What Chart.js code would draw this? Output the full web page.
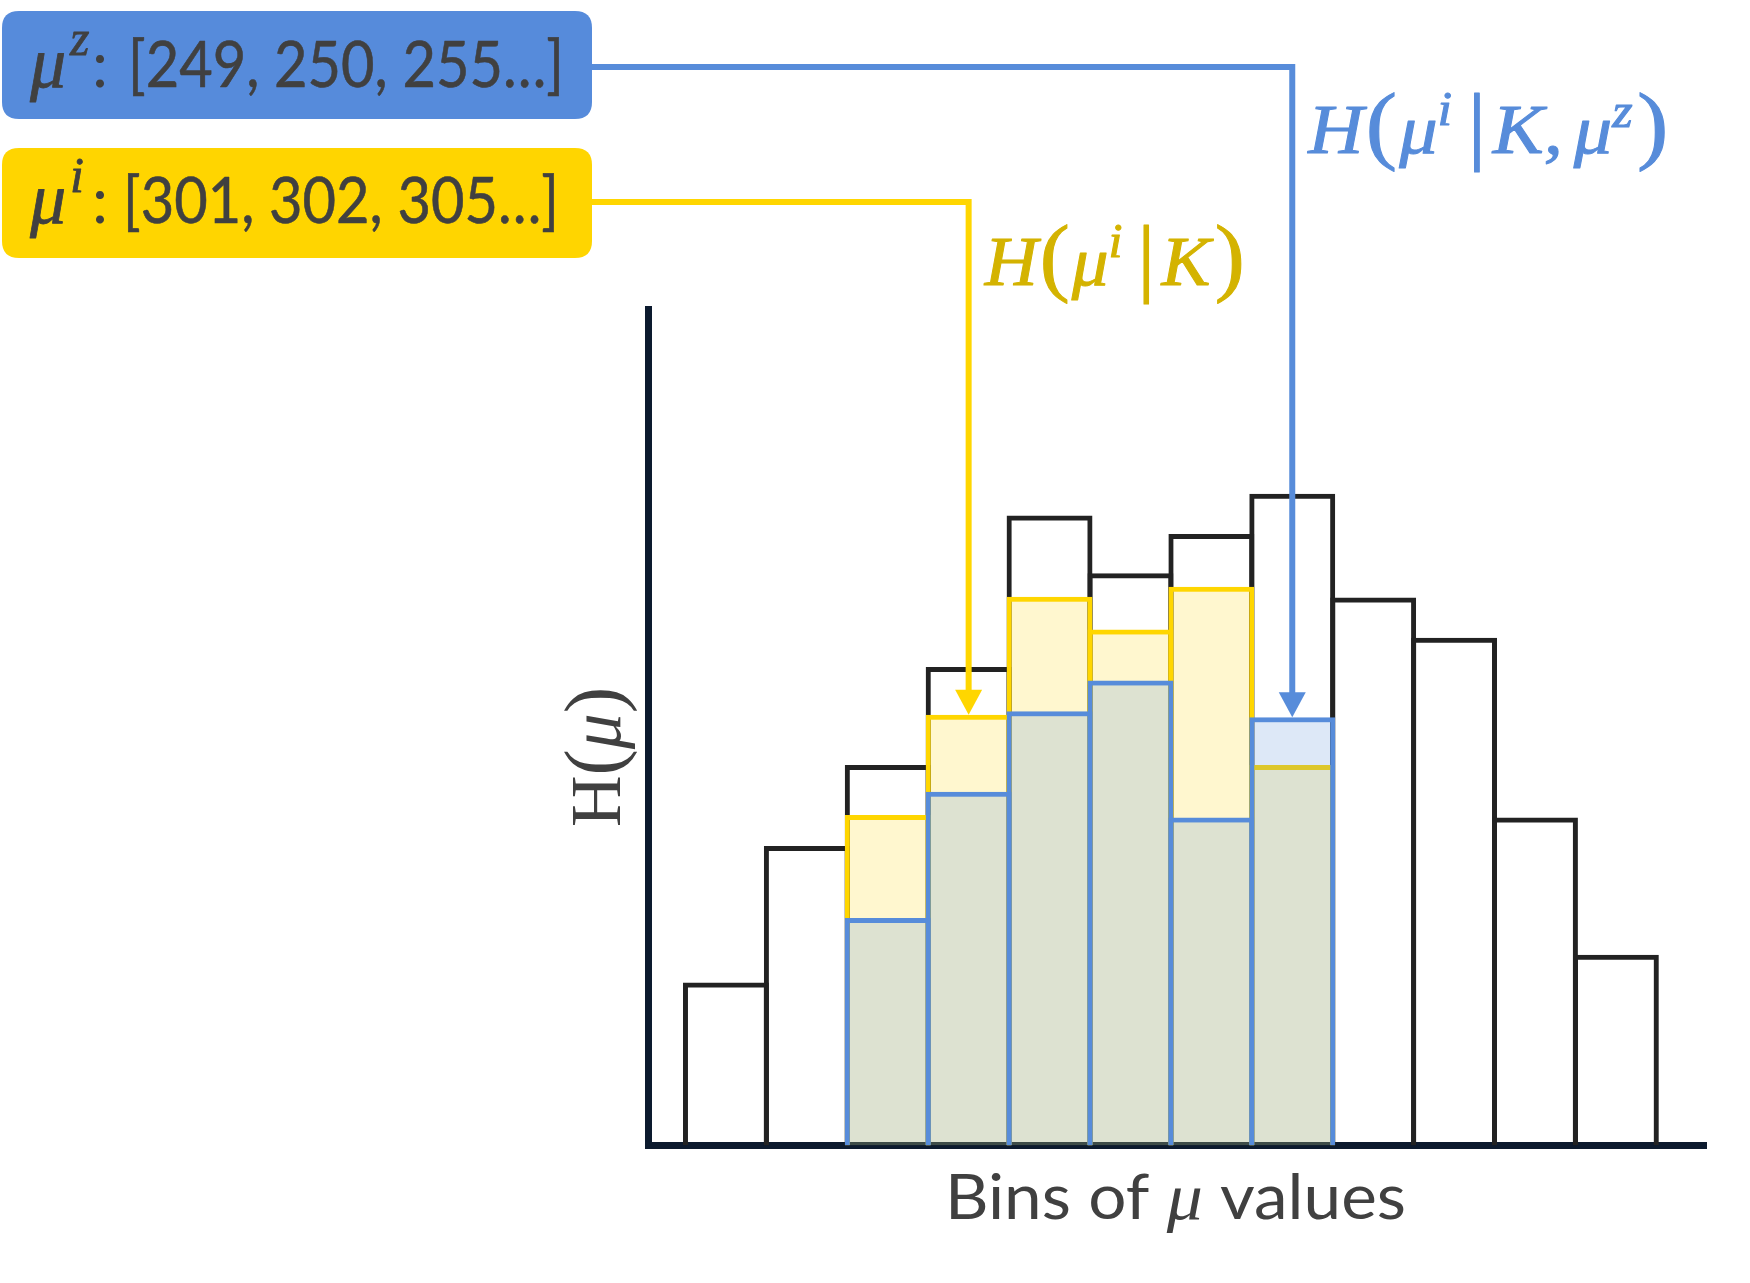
<!DOCTYPE html>
<html>
<head>
<meta charset="utf-8">
<script src="https://cdn.jsdelivr.net/npm/chart.js@4/dist/chart.umd.min.js"></script>
<style>
html,body{margin:0;padding:0;background:#ffffff;}
canvas{display:block;}
</style>
</head>
<body>
<canvas id="c" width="1750" height="1283"></canvas>
<script>
// ---------------- DATA ----------------
const bins = [0, 1, 2, 3, 4, 5, 6, 7, 8, 9, 10, 11];                       // bins of mu values
const hAll = [19.5, 35.8, 45.5, 57.2, 75.3, 68.4, 73.1, 77.9, 65.5, 60.7, 39.2, 22.8];   // H(mu)
const hGivenK = [null, null, 39.5, 51.5, 65.6, 61.7, 66.8, 45.5, null, null, null, null]; // H(mu^i | K)
const hGivenKZ = [null, null, 27.2, 42.3, 51.9, 55.6, 39.2, 51.2, null, null, null, null]; // H(mu^i | K, mu^z)
const muZList = '[249, 250, 255…]';
const muIList = '[301, 302, 305…]';
const yellowArrowBin = 3;
const blueArrowBin = 7;

// ---------------- STYLE ----------------
const C_BLUE = '#578CDA';
const C_BLUE_BOX = '#568BDB';
const C_YEL = '#FFD600';
const C_YEL_BOX = '#FFD500';
const C_YEL_TXT = '#D4B300';
const C_TXT = '#404040';
const C_AXIS = '#0C1A2E';
const SERIF = '"Liberation Serif", "DejaVu Serif", serif';
const SANS = 'Lato, "Open Sans", sans-serif';

function pts(arr) { return arr.map((v, i) => ({ x: bins[i], y: v })); }

function rich(ctx, segs, x, y, color, fitWidth, strokeW) {
  ctx.save();
  ctx.fillStyle = color;
  ctx.strokeStyle = color;
  ctx.lineWidth = strokeW || 0;
  ctx.lineJoin = 'round';
  ctx.textBaseline = 'alphabetic';
  ctx.textAlign = 'left';
  let total = 0;
  segs.forEach(s => { ctx.font = s.f; s.w = ctx.measureText(s.t).width; total += (s.pre || 0) + s.w + (s.post || 0); });
  const sx = fitWidth ? fitWidth / total : 1;
  ctx.translate(x, y);
  ctx.scale(sx, 1);
  let cx = 0;
  segs.forEach(s => {
    cx += s.pre || 0;
    ctx.font = s.f;
    ctx.fillText(s.t, cx, -(s.up || 0));
    if (strokeW) ctx.strokeText(s.t, cx, -(s.up || 0));
    cx += s.w + (s.post || 0);
  });
  ctx.restore();
  return total * sx;
}

function roundBox(ctx, x, y, w, h, r, fill) {
  ctx.save();
  ctx.fillStyle = fill;
  ctx.beginPath();
  ctx.moveTo(x + r, y);
  ctx.lineTo(x + w - r, y);
  ctx.quadraticCurveTo(x + w, y, x + w, y + r);
  ctx.lineTo(x + w, y + h - r);
  ctx.quadraticCurveTo(x + w, y + h, x + w - r, y + h);
  ctx.lineTo(x + r, y + h);
  ctx.quadraticCurveTo(x, y + h, x, y + h - r);
  ctx.lineTo(x, y + r);
  ctx.quadraticCurveTo(x, y, x + r, y);
  ctx.closePath();
  ctx.fill();
  ctx.restore();
}

function connector(ctx, x0, y0, xc, yTip, color) {
  const ah = 25, aw = 27, lw = 6;
  ctx.save();
  ctx.strokeStyle = color;
  ctx.lineWidth = lw;
  ctx.lineJoin = 'miter';
  ctx.lineCap = 'butt';
  ctx.beginPath();
  ctx.moveTo(x0, y0);
  ctx.lineTo(xc, y0);
  ctx.lineTo(xc, yTip - ah + 2);
  ctx.stroke();
  ctx.fillStyle = color;
  ctx.beginPath();
  ctx.moveTo(xc - aw / 2, yTip - ah);
  ctx.lineTo(xc + aw / 2, yTip - ah);
  ctx.lineTo(xc, yTip);
  ctx.closePath();
  ctx.fill();
  ctx.restore();
}

const annot = {
  id: 'annot',
  afterDraw(chart) {
    const ctx = chart.ctx;
    const xs = chart.scales.x, ys = chart.scales.y;

    // boxes
    roundBox(ctx, 2, 11, 590, 108, 17, C_BLUE_BOX);
    roundBox(ctx, 2, 148, 590, 110, 17, C_YEL_BOX);

    // box 1 text
    rich(ctx, [{ t: 'μ', f: 'italic 72px ' + SERIF }], 30, 87, C_TXT, 0, 0.8);
    rich(ctx, [{ t: 'z', f: 'italic 50px ' + SERIF }], 70, 55, C_TXT, 0, 0.8);
    rich(ctx, [{ t: ':', f: '64px ' + SANS }], 92, 87, C_TXT);
    rich(ctx, [{ t: muZList, f: '64px ' + SANS }], 128, 87, C_TXT, 436, 0.6);

    // box 2 text
    rich(ctx, [{ t: 'μ', f: 'italic 72px ' + SERIF }], 30, 223, C_TXT, 0, 0.8);
    rich(ctx, [{ t: 'i', f: 'italic 50px ' + SERIF }], 70, 192, C_TXT, 0, 0.8);
    rich(ctx, [{ t: ':', f: '64px ' + SANS }], 92, 223, C_TXT);
    rich(ctx, [{ t: muIList, f: '64px ' + SANS }], 123, 223, C_TXT, 436, 0.6);

    // connectors
    const xb = xs.getPixelForValue(bins[blueArrowBin]);
    const yb = ys.getPixelForValue(hGivenKZ[blueArrowBin]);
    connector(ctx, 592, 67, xb, yb, C_BLUE);
    const xy = xs.getPixelForValue(bins[yellowArrowBin]);
    const yy = ys.getPixelForValue(hGivenK[yellowArrowBin]);
    connector(ctx, 592, 202, xy, yy, C_YEL);

    // labels
    const it = 'italic 70px ' + SERIF, big = '86px ' + SERIF, sup = 'italic 48px ' + SERIF;
    rich(ctx, [
      { t: 'H', f: it, post: 2 },
      { t: '(', f: big, post: 2 },
      { t: 'μ', f: it },
      { t: 'i', f: sup, up: 28, post: 14 },
      { t: '|', f: big, post: 6 },
      { t: 'K', f: it },
      { t: ',', f: it, post: 10 },
      { t: 'μ', f: it },
      { t: 'z', f: sup, up: 26, post: 4 },
      { t: ')', f: big }
    ], xb + 16, 153, C_BLUE, 360, 1);
    rich(ctx, [
      { t: 'H', f: it, post: 2 },
      { t: '(', f: big, post: 2 },
      { t: 'μ', f: it },
      { t: 'i', f: sup, up: 28, post: 14 },
      { t: '|', f: big, post: 6 },
      { t: 'K', f: it, post: 4 },
      { t: ')', f: big }
    ], xy + 16, 285, C_YEL_TXT, 260, 1);

    // y title (rotated)
    ctx.save();
    ctx.translate(620, 757);
    ctx.rotate(-Math.PI / 2);
    const segsY = [
      { t: 'H', f: '72px ' + SERIF },
      { t: '(', f: '80px ' + SERIF },
      { t: 'μ', f: 'italic 72px ' + SERIF },
      { t: ')', f: '80px ' + SERIF }
    ];
    rich(ctx, segsY, -70, 0, C_TXT, 140);
    ctx.restore();

    // x title
    rich(ctx, [
      { t: 'Bins of ', f: '62px ' + SANS },
      { t: 'μ', f: 'italic 66px ' + SERIF },
      { t: ' values', f: '62px ' + SANS }
    ], 945, 1219, C_TXT, 461);
  }
};

const BW = 5;
new Chart(document.getElementById('c').getContext('2d'), {
  type: 'bar',
  data: {
    datasets: [
      { label: 'H(μi|K,μz)', data: pts(hGivenKZ), backgroundColor: 'rgba(85,142,215,0.2)', borderColor: C_BLUE, borderWidth: BW, order: 0 },
      { label: 'H(μi|K)', data: pts(hGivenK), backgroundColor: 'rgba(255,215,0,0.19)', borderColor: C_YEL, borderWidth: BW, order: 1 },
      { label: 'H(μ)', data: pts(hAll), backgroundColor: 'rgba(255,255,255,0)', borderColor: '#222222', borderWidth: BW, order: 2 }
    ]
  },
  options: {
    responsive: false,
    animation: false,
    devicePixelRatio: 1,
    layout: { padding: { left: 648.5, top: 309, right: 44, bottom: 137.5 } },
    plugins: { legend: { display: false }, tooltip: { enabled: false }, title: { display: false } },
    datasets: { bar: { grouped: false, barPercentage: 1.062, categoryPercentage: 1, borderSkipped: 'start' } },
    scales: {
      x: {
        type: 'linear', min: -0.957, max: 12.114, offset: false,
        grid: { display: false, drawTicks: false, offset: false },
        ticks: { display: false, stepSize: 1, includeBounds: false },
        border: { display: true, color: C_AXIS, width: 7 }
      },
      y: {
        min: 0, max: 100,
        grid: { display: false, drawTicks: false },
        ticks: { display: false },
        border: { display: true, color: C_AXIS, width: 7 }
      }
    }
  },
  plugins: [annot]
});
</script>
</body>
</html>
